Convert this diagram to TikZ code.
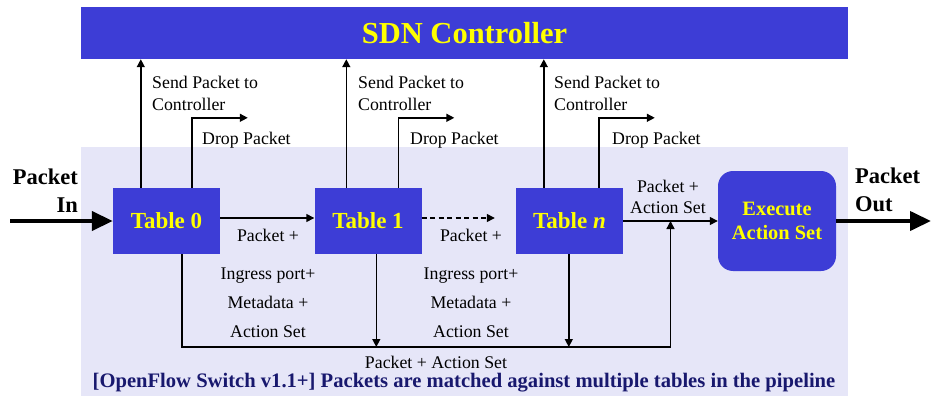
\documentclass[tikz,border=0pt]{standalone}
\usepackage{fontspec}
\setmainfont{Liberation Serif}
\usetikzlibrary{arrows.meta,calc}

\definecolor{boxblue}{RGB}{61,61,214}
\definecolor{switchbg}{RGB}{230,230,248}
\definecolor{navytext}{RGB}{24,24,110}
\definecolor{hilite}{RGB}{255,255,0}

\tikzset{
  tablebox/.style={fill=boxblue, minimum width=107pt, minimum height=66pt,
    inner sep=0pt, text=hilite, font=\bfseries\fontsize{23}{27}\selectfont},
  execbox/.style={fill=boxblue, rounded corners=15pt, minimum width=118pt,
    minimum height=100pt, inner sep=0pt, text=hilite, align=center,
    font=\bfseries\fontsize{20.4}{24}\selectfont},
  ctrlbox/.style={fill=boxblue, minimum width=767pt, minimum height=52pt,
    inner sep=0pt, text=hilite, font=\bfseries\fontsize{30.5}{34}\selectfont},
  lbl/.style={inner sep=0pt, font=\fontsize{17.8}{21}\selectfont},
  biglbl/.style={inner sep=0pt, font=\bfseries\fontsize{22.5}{27}\selectfont},
  flow/.style={line width=1.4pt, -{Triangle[length=8pt,width=8pt]}},
  bigflow/.style={line width=4pt, -{Triangle[length=21pt,width=19pt]}},
}

\begin{document}
\begin{tikzpicture}[x=1pt,y=-1pt]
\useasboundingbox (0,0) rectangle (931,396);

% switch area and controller
\fill[switchbg] (81,147) rectangle (848,396);
\node[ctrlbox] (ctrl) at (464.5,33) {SDN Controller};

% flow tables and action execution
\node[tablebox] (t0) at (166.5,221) {Table 0};
\node[tablebox] (t1) at (368,221) {Table 1};
\node[tablebox] (tn) at (569.5,221) {Table \textit{n}};
\node[execbox] (ex) at (777,221) {Execute\\Action Set};

% packet in / out
\coordinate (pin) at (10,221);
\coordinate (pout) at (931,221);
\draw[bigflow] (pin) -- (t0.west);
\draw[bigflow] (ex.east) -- (pout);
\node[biglbl, anchor=base east] (in1) at (78,184) {Packet};
\node[biglbl, anchor=base east] (in2) at (78,212) {In};
\node[biglbl, anchor=base west] (out1) at (855,183) {Packet};
\node[biglbl, anchor=base west] (out2) at (855,211) {Out};

% controller and drop branches above each table
\path (t0.north west) ++(28,0) coordinate (s0) ++(51,0) coordinate (d0);
\path (t1.north west) ++(32,0) coordinate (s1) ++(52,0) coordinate (d1);
\path (tn.north west) ++(28,0) coordinate (sn) ++(55,0) coordinate (dn);
\foreach \s/\d in {s0/d0, s1/d1, sn/dn} {
  \draw[flow] (\s) -- (\s |- ctrl.south);
  \draw[flow] (\d) |- ++(56,-70);
}
\foreach \x/\n in {152/0, 358/1, 554/n} {
  \node[lbl, anchor=base west] (send\n) at (\x,88.3) {Send Packet to};
  \node[lbl, anchor=base west] (ctl\n) at (\x,110) {Controller};
}
\foreach \x/\n in {202/0, 410/1, 612/n} {
  \node[lbl, anchor=base west] (drop\n) at (\x,144) {Drop Packet};
}

% table-to-table pipeline
\draw[flow] ([yshift=3pt]t0.east) -- ([yshift=3pt]t1.west);
\draw[flow, dash pattern=on 5pt off 3.5pt] ([yshift=3pt]t1.east) -- ([yshift=3pt,xshift=-21pt]tn.west);
\coordinate (join) at ($(tn.east)!0.5!(ex.west)$);
\draw[flow] (tn.east) -- (ex.west);
\foreach \x/\n in {268/a, 471/b} {
  \node[lbl, anchor=base] (pk\n) at (\x,241.7) {Packet +};
  \node[lbl, anchor=base] (ig\n) at (\x,279) {Ingress port+};
  \node[lbl, anchor=base] (md\n) at (\x,308) {Metadata +};
  \node[lbl, anchor=base] (as\n) at (\x,337) {Action Set};
}
\node[lbl, anchor=base] (pkc) at (668,192) {Packet +};
\node[lbl, anchor=base] (asc) at (668,213) {Action Set};

% action-set bus below the tables
\coordinate (bus) at (0,347);
\path (t0.south west) ++(69,0) coordinate (b0);
\path (t1.south west) ++(62,0) coordinate (b1);
\path (tn.south west) ++(53,0) coordinate (bn);
\draw[flow] (b0) |- (join |- bus) -- (join);
\draw[flow] (b1) -- (b1 |- bus);
\draw[flow] (bn) -- (bn |- bus);
\node[lbl, anchor=base] (busl) at (436,368) {Packet + Action Set};

% caption
\node[inner sep=0pt, anchor=base, text=navytext,
  font=\bfseries\fontsize{20.6}{24}\selectfont] (cap) at (464,387)
  {[OpenFlow Switch v1.1+] Packets are matched against multiple tables in the pipeline};
\end{tikzpicture}
\end{document}
